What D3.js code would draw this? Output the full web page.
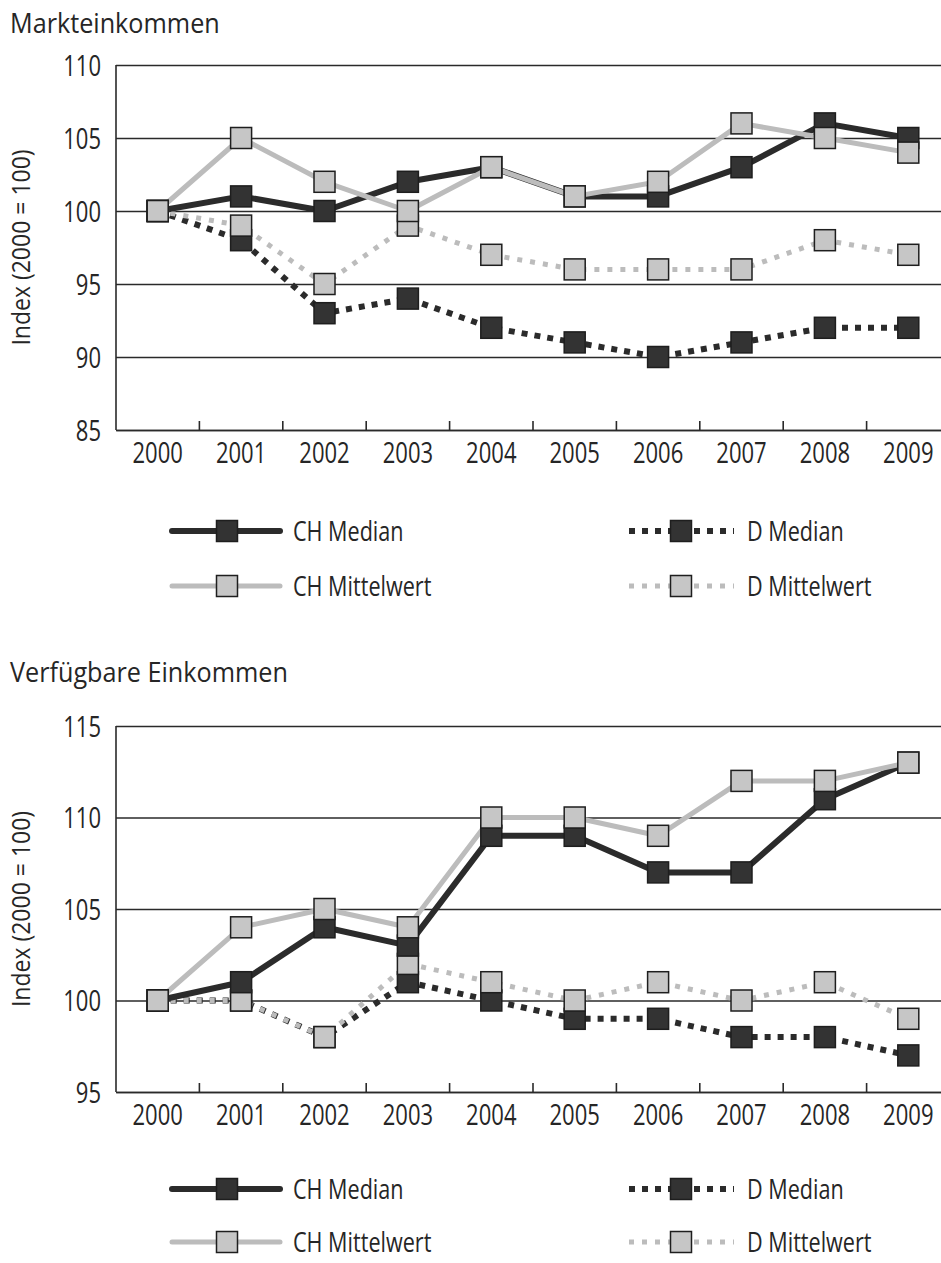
<!DOCTYPE html>
<html>
<head>
<meta charset="utf-8">
<script src="https://cdn.jsdelivr.net/npm/d3@7"></script>
<style>
    body { margin: 0; background: #fff; }
    svg { display: block; font-family: "Open Sans", sans-serif; }
</style>
</head>
<body>
<div id="chart"></div>
<script>
    // Werte (Index 2000 = 100)
    const years = ['2000', '2001', '2002', '2003', '2004', '2005', '2006', '2007', '2008', '2009'];
    const seriesNames = ['CH Median', 'CH Mittelwert', 'D Median', 'D Mittelwert'];

    const marktTicks = [85, 90, 95, 100, 105, 110];
    const marktChMedian = [100, 101, 100, 102, 103, 101, 101, 103, 106, 105];
    const marktChMittel = [100, 105, 102, 100, 103, 101, 102, 106, 105, 104];
    const marktDMedian = [100, 98, 93, 94, 92, 91, 90, 91, 92, 92];
    const marktDMittel = [100, 99, 95, 99, 97, 96, 96, 96, 98, 97];

    const verfTicks = [95, 100, 105, 110, 115];
    const verfChMedian = [100, 101, 104, 103, 109, 109, 107, 107, 111, 113];
    const verfChMittel = [100, 104, 105, 104, 110, 110, 109, 112, 112, 113];
    const verfDMedian = [100, 100, 98, 101, 100, 99, 99, 98, 98, 97];
    const verfDMittel = [100, 100, 98, 102, 101, 100, 101, 100, 101, 99];

    const width = 941, height = 1263;
    const ink = '#262626';
    const tickSx = 0.76;

    const styles = {
        'CH Median':     { stroke: '#2b2b2b', width: 6, dash: null,  fill: '#333333' },
        'CH Mittelwert': { stroke: '#bcbcbc', width: 5, dash: null,  fill: '#c6c6c6' },
        'D Median':      { stroke: '#2b2b2b', width: 6, dash: '6,7', fill: '#333333' },
        'D Mittelwert':  { stroke: '#bcbcbc', width: 5, dash: '5,8', fill: '#c6c6c6' }
    };
    const drawOrder = ['D Median', 'D Mittelwert', 'CH Median', 'CH Mittelwert'];

    const svg = d3.select('#chart').append('svg')
        .attr('width', width).attr('height', height);

    // text squeezed horizontally to get the narrow print look
    function label(parent, x, y, txt, opts) {
        const o = Object.assign({ size: 27, sx: 0.8, anchor: 'start', rotate: 0 }, opts);
        const g = parent.append('g')
            .attr('transform', `translate(${x},${y})` + (o.rotate ? ` rotate(${o.rotate})` : '') + ` scale(${o.sx},1)`);
        g.append('text')
            .attr('text-anchor', o.anchor)
            .style('font-size', o.size + 'px')
            .style('fill', ink)
            .text(txt);
        return g;
    }

    function marker(parent, cx, cy, fill, size) {
        parent.append('rect')
            .attr('x', cx - size / 2).attr('y', cy - size / 2)
            .attr('width', size).attr('height', size)
            .style('fill', fill)
            .style('stroke', '#1e1e1e')
            .style('stroke-width', 1.5);
    }

    function drawPanel(cfg) {
        const g = svg.append('g');
        const left = 116, right = 950;

        const x = d3.scaleBand().domain(years).range([left, right]).padding(0);
        const y = d3.scaleLinear().domain(d3.extent(cfg.ticks)).range([cfg.bottom, cfg.top]);

        label(g, 10, cfg.titleY, cfg.title, { size: 28, sx: 0.9 });

        // y axis with gridlines
        const yAxis = g.append('g')
            .attr('transform', `translate(${left},0)`)
            .call(d3.axisLeft(y).tickValues(cfg.ticks).tickSize(-(right - left)).tickPadding(0));
        yAxis.select('.domain').remove();
        yAxis.selectAll('.tick line')
            .style('stroke', '#2a2a2a').style('stroke-width', 1.6);
        yAxis.selectAll('.tick text')
            .attr('x', -15 / tickSx).attr('dy', '0.36em')
            .attr('transform', `scale(${tickSx},1)`)
            .style('font-family', '"Open Sans", sans-serif')
            .style('font-size', '29px').style('fill', ink);

        // left axis line
        g.append('line')
            .attr('x1', left).attr('x2', left)
            .attr('y1', y.range()[1]).attr('y2', y.range()[0])
            .style('stroke', '#2a2a2a').style('stroke-width', 1.6);

        // x axis
        const xAxis = g.append('g')
            .attr('transform', `translate(0,${cfg.bottom})`)
            .call(d3.axisBottom(x).tickSize(0).tickPadding(0));
        xAxis.select('.domain').style('stroke', '#2a2a2a').style('stroke-width', 1.6);
        xAxis.selectAll('.tick text')
            .attr('y', 33).attr('dy', 0)
            .attr('transform', `scale(${tickSx},1)`)
            .style('font-family', '"Open Sans", sans-serif')
            .style('font-size', '29px').style('fill', ink);

        // category boundary ticks pointing up
        g.append('g').selectAll('line')
            .data(years.slice(1))
            .join('line')
            .attr('x1', d => x(d)).attr('x2', d => x(d))
            .attr('y1', cfg.bottom).attr('y2', cfg.bottom - 9)
            .style('stroke', '#2a2a2a').style('stroke-width', 1.6);

        // y axis title
        label(g, 30, (cfg.top + cfg.bottom) / 2 + (cfg.labelShift || 0), 'Index (2000 = 100)',
            { size: 25, sx: 0.92, anchor: 'middle', rotate: -90 });

        const cx = d => x(d) + x.bandwidth() / 2;
        const line = d3.line().x(d => cx(d.year)).y(d => y(d.value));

        drawOrder.forEach(name => {
            const st = styles[name];
            const pts = years.map((yr, i) => ({ year: yr, value: cfg.series[name][i] }));
            g.append('path')
                .datum(pts)
                .attr('d', line)
                .style('fill', 'none')
                .style('stroke', st.stroke)
                .style('stroke-width', st.width)
                .style('stroke-linejoin', 'round')
                .style('stroke-dasharray', st.dash);
        });
        drawOrder.forEach(name => {
            const st = styles[name];
            years.forEach((yr, i) => marker(g, cx(yr), y(cfg.series[name][i]), st.fill, 21));
        });

        // legend
        const legendCols = [
            { x0: 172, x1: 280, m: 227, t: 293 },
            { x0: 629, x1: 734, m: 681, t: 747 }
        ];
        seriesNames.forEach((name, i) => {
            const col = legendCols[i < 2 ? 0 : 1];
            const ly = cfg.legendY + (i % 2) * cfg.legendGap;
            const st = styles[name];
            g.append('line')
                .attr('x1', col.x0).attr('x2', col.x1)
                .attr('y1', ly).attr('y2', ly)
                .style('stroke', st.stroke)
                .style('stroke-width', st.width)
                .style('stroke-linecap', st.dash ? 'butt' : 'round')
                .style('stroke-dasharray', st.dash);
            marker(g, col.m, ly, st.fill, 21);
            label(g, col.t, ly + 10, name, { size: 27, sx: 0.8 });
        });
    }

    drawPanel({
        title: 'Markteinkommen', titleY: 33,
        top: 65, bottom: 430,
        ticks: marktTicks,
        series: {
            'CH Median': marktChMedian, 'CH Mittelwert': marktChMittel,
            'D Median': marktDMedian, 'D Mittelwert': marktDMittel
        },
        legendY: 531, legendGap: 55
    });

    drawPanel({
        title: 'Verfügbare Einkommen', titleY: 682,
        top: 726, bottom: 1092,
        ticks: verfTicks,
        series: {
            'CH Median': verfChMedian, 'CH Mittelwert': verfChMittel,
            'D Median': verfDMedian, 'D Mittelwert': verfDMittel
        },
        legendY: 1189, legendGap: 53
    });
</script>
</body>
</html>
